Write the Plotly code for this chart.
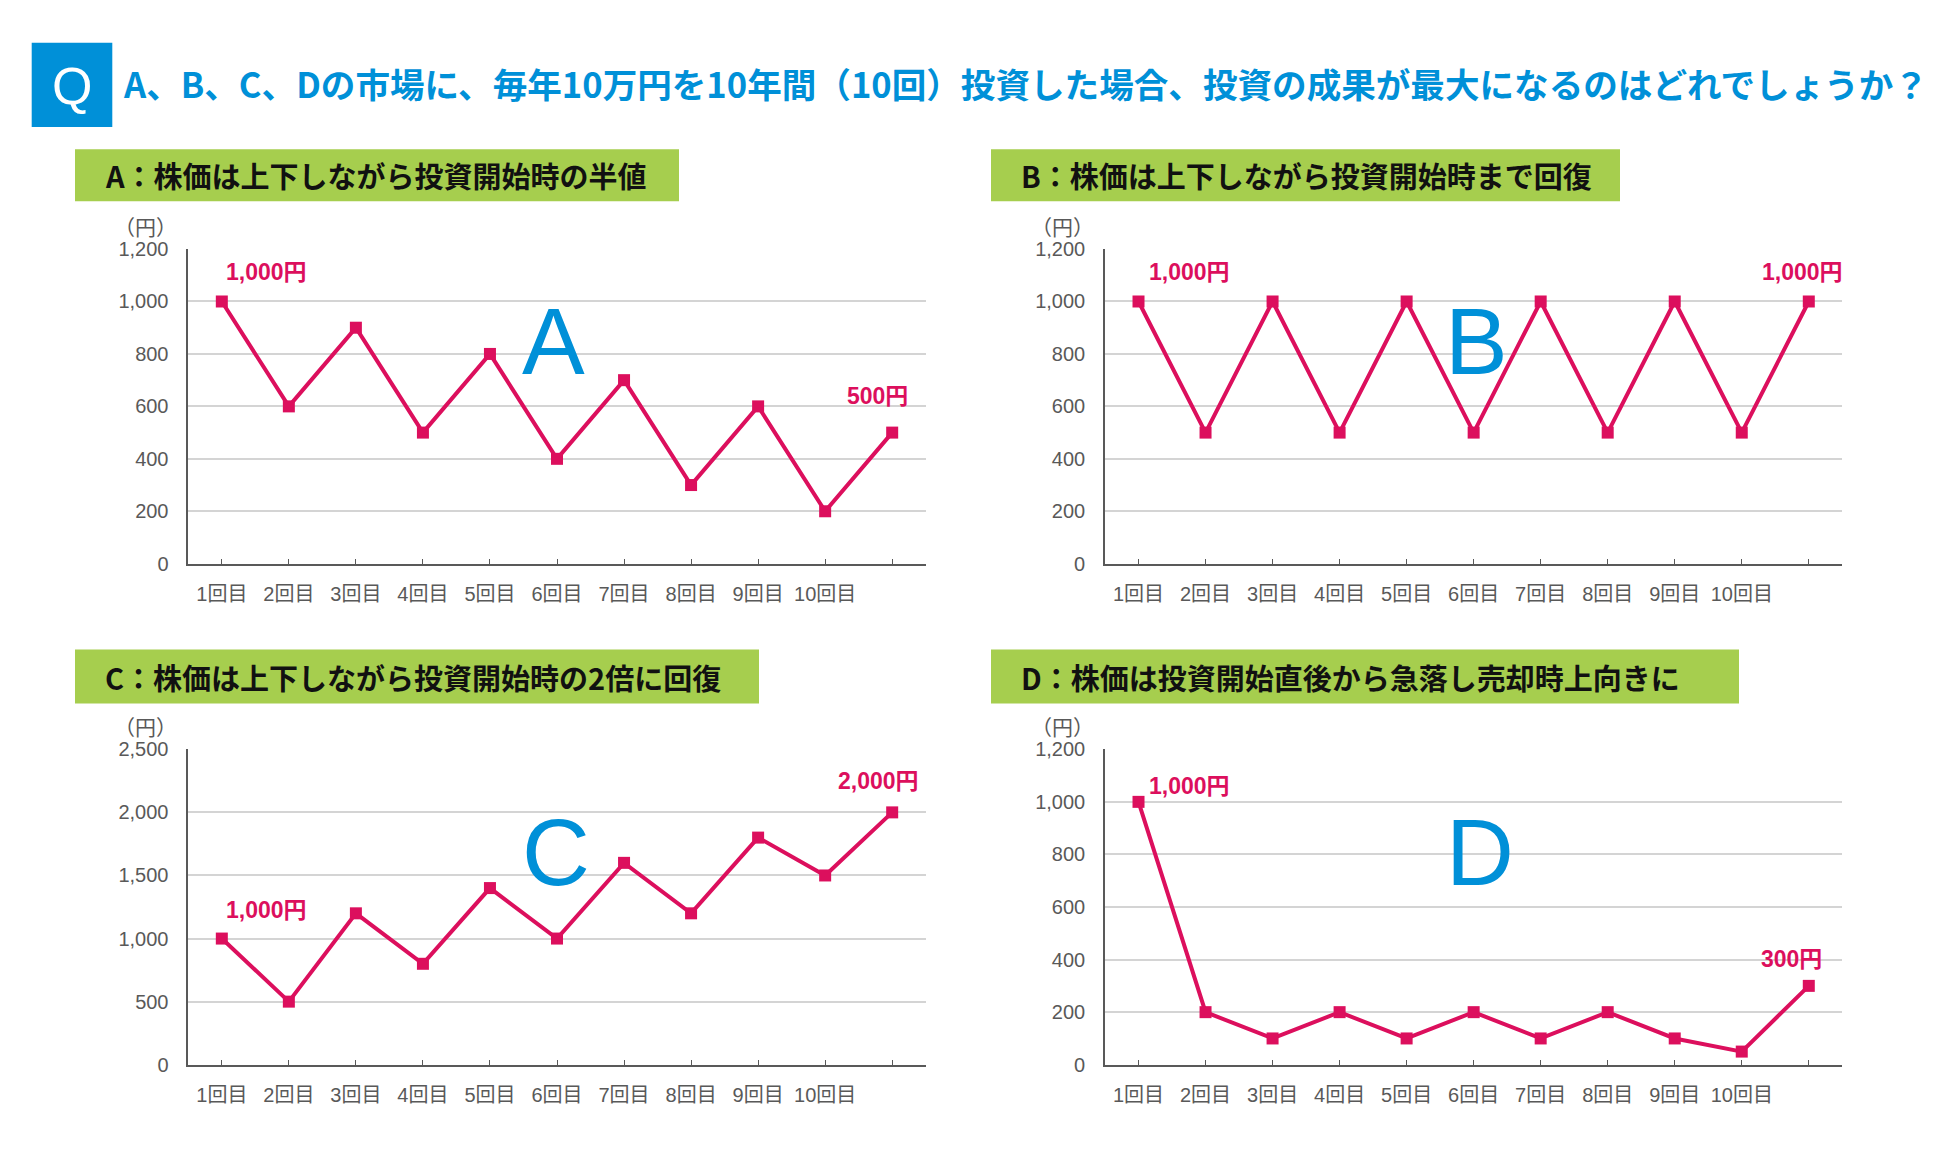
import plotly.graph_objects as go

W, H = 1952, 1149

# ---------------- data ----------------
rounds = [1, 2, 3, 4, 5, 6, 7, 8, 9, 10, 11]
x_tick_labels = ["1回目", "2回目", "3回目", "4回目", "5回目",
                 "6回目", "7回目", "8回目", "9回目", "10回目"]
series_a = [1000, 600, 900, 500, 800, 400, 700, 300, 600, 200, 500]
series_b = [1000, 500, 1000, 500, 1000, 500, 1000, 500, 1000, 500, 1000]
series_c = [1000, 500, 1200, 800, 1400, 1000, 1600, 1200, 1800, 1500, 2000]
series_d = [1000, 200, 100, 200, 100, 200, 100, 200, 100, 50, 300]
y_ticks_std = [0, 200, 400, 600, 800, 1000, 1200]
y_ticks_c = [0, 500, 1000, 1500, 2000, 2500]

title_text = "A、B、C、Dの市場に、毎年10万円を10年間（10回）投資した場合、投資の成果が最大になるのはどれでしょうか？"
header_a = "A：株価は上下しながら投資開始時の半値"
header_b = "B：株価は上下しながら投資開始時まで回復"
header_c = "C：株価は上下しながら投資開始時の2倍に回復"
header_d = "D：株価は投資開始直後から急落し売却時上向きに"
unit_label = "（円）"
start_labels = ["1,000円", "1,000円", "1,000円", "1,000円"]
end_labels = ["500円", "1,000円", "2,000円", "300円"]

# ---------------- styles ----------------
BLUE = "#0090D8"
GREEN = "#A6CE4E"
LINE = "#DC0F5D"
AXIS = "#595959"
GRID = "#D4D4D4"
CJK = "Noto Sans CJK JP"
LAT = "Liberation Sans, Noto Sans CJK JP, sans-serif"


def px(x):
    return x / W


def py(y):
    return 1 - y / H


panels = [
    dict(key="", letter="A", data=series_a, yt=y_ticks_std, ymax=1200,
         x0=188.3, x1=925.7, y0=242.7, y1=563.5, header=header_a,
         hx0=75, hx1=679, hy0=141, hy1=194,
         big=(553, 337),
         start=dict(xanchor="left", xshift=2, yshift=29),
         end=dict(xanchor="right", xshift=18, yshift=37)),
    dict(key="2", letter="B", data=series_b, yt=y_ticks_std, ymax=1200,
         x0=1105, x1=1842.3, y0=242.7, y1=563.5, header=header_b,
         hx0=991, hx1=1620, hy0=141, hy1=194,
         big=(1476, 337),
         start=dict(xanchor="left", xshift=8, yshift=29),
         end=dict(xanchor="right", xshift=36, yshift=29)),
    dict(key="3", letter="C", data=series_c, yt=y_ticks_c, ymax=2500,
         x0=188.3, x1=925.7, y0=752.7, y1=1074.3, header=header_c,
         hx0=75, hx1=759, hy0=651, hy1=706,
         big=(556, 858),
         start=dict(xanchor="left", xshift=2, yshift=29),
         end=dict(xanchor="right", xshift=29, yshift=31)),
    dict(key="4", letter="D", data=series_d, yt=y_ticks_std, ymax=1200,
         x0=1105, x1=1842.3, y0=752.7, y1=1074.3, header=header_d,
         hx0=991, hx1=1739, hy0=651, hy1=706,
         big=(1480, 858),
         start=dict(xanchor="left", xshift=8, yshift=16),
         end=dict(xanchor="right", xshift=15, yshift=27)),
]

fig = go.Figure()
shapes = []
annotations = []
layout_axes = {}

tickvals = rounds + [11.5]
ticktext = x_tick_labels + ["", ""]

for i, p in enumerate(panels):
    k = p["key"]
    xa = "x" + k
    ya = "y" + k
    fig.add_trace(go.Scatter(
        x=rounds, y=p["data"], xaxis=xa, yaxis=ya, mode="lines+markers",
        line=dict(color=LINE, width=4),
        marker=dict(symbol="square", size=12, color=LINE),
        showlegend=False, cliponaxis=False, hoverinfo="skip"))

    layout_axes["xaxis" + k] = dict(
        domain=[px(p["x0"]), px(p["x1"])], range=[0.5, 11.5], anchor=ya,
        tickmode="array", tickvals=tickvals, ticktext=ticktext,
        ticks="inside", ticklen=5, tickwidth=1.4, tickcolor=AXIS,
        showgrid=False, zeroline=False, showline=True, linecolor=AXIS,
        linewidth=1.8, tickfont=dict(family=LAT, size=20, color=AXIS),
        ticklabelstandoff=11, fixedrange=True)
    layout_axes["yaxis" + k] = dict(
        domain=[py(p["y1"]), py(p["y0"])], range=[0, p["ymax"]], anchor=xa,
        tickmode="array", tickvals=p["yt"], tickformat=",d",
        showgrid=True, gridcolor=GRID, gridwidth=2, zeroline=False,
        showline=True, linecolor=AXIS, linewidth=1.6, ticks="",
        tickfont=dict(family=LAT, size=20, color=AXIS),
        ticklabelstandoff=14, fixedrange=True)

    # header box
    shapes.append(dict(type="rect", xref="paper", yref="paper",
                       x0=px(p["hx0"]), x1=px(p["hx1"]),
                       y0=py(p["hy1"]), y1=py(p["hy0"]),
                       fillcolor=GREEN, line=dict(width=0), layer="below"))
    annotations.append(dict(xref="paper", yref="paper",
                            x=px(p["hx0"] + 28), y=py((p["hy0"] + p["hy1"]) / 2),
                            xanchor="left", yanchor="middle", showarrow=False,
                            text="<b>" + p["header"] + "</b>",
                            font=dict(family=CJK, size=29, color="#111111")))
    # unit label
    annotations.append(dict(xref="paper", yref="paper",
                            x=px(p["x0"] - 9), y=py(p["y0"] - 24),
                            xanchor="right", yanchor="middle", showarrow=False,
                            text=unit_label,
                            font=dict(family=CJK, size=21, color=AXIS)))
    # big letter
    annotations.append(dict(xref="paper", yref="paper",
                            x=px(p["big"][0]), y=py(p["big"][1]),
                            xanchor="center", yanchor="middle", showarrow=False,
                            text=p["letter"],
                            font=dict(family=LAT, size=94, color=BLUE)))
    # data labels
    for idx, lab, cfg in [(0, start_labels[i], p["start"]),
                          (10, end_labels[i], p["end"])]:
        annotations.append(dict(xref=xa, yref=ya, x=rounds[idx], y=p["data"][idx],
                                xanchor=cfg["xanchor"], yanchor="middle",
                                xshift=cfg["xshift"], yshift=cfg["yshift"],
                                showarrow=False, text="<b>" + lab + "</b>",
                                font=dict(family=LAT, size=23, color=LINE)))

# Q box and title
shapes.append(dict(type="rect", xref="paper", yref="paper",
                   x0=px(31.7), x1=px(112.3), y0=py(118.3), y1=py(32.3),
                   fillcolor=BLUE, line=dict(width=0)))
annotations.append(dict(xref="paper", yref="paper", x=px(72), y=py(76),
                        xanchor="center", yanchor="middle", showarrow=False,
                        text="Q", font=dict(family=LAT, size=52, color="white")))
annotations.append(dict(xref="paper", yref="paper", x=px(121), y=py(73),
                        xanchor="left", yanchor="middle", showarrow=False,
                        text="<b>" + title_text + "</b>",
                        font=dict(family=CJK, size=34.6, color=BLUE)))

fig.update_layout(
    width=W, height=H, margin=dict(l=0, r=0, t=0, b=0),
    paper_bgcolor="white", plot_bgcolor="white",
    shapes=shapes, annotations=annotations, showlegend=False,
    **layout_axes)

fig.write_html("out.html")
